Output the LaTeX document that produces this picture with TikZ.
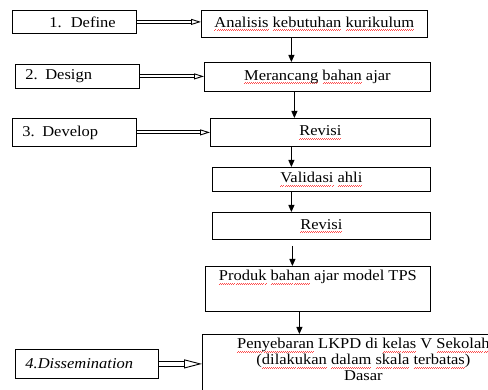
\documentclass[tikz,border=0pt]{standalone}
\usepackage{fontspec}
\setmainfont{Liberation Serif}[FakeStretch=1.1]
\usepackage{xcolor}
\usepackage{tikz}
\usetikzlibrary{arrows.meta,positioning,calc}

\newsavebox{\splbox}
\newcommand{\waveunit}{\hbox{{\color{red!70}\rule{1pt}{0.6pt}\rule[0.8pt]{1pt}{0.6pt}}}}
\newcommand{\spl}[1]{\leavevmode\sbox{\splbox}{#1}%
  \rlap{\lower3.5pt\hbox to \wd\splbox{\xleaders\waveunit\hfil}}\usebox{\splbox}}

\begin{document}
\begin{tikzpicture}[
  x=1pt, y=-1pt,
  box/.style={draw, line width=0.8pt, inner sep=3pt, anchor=north west,
              font=\fontsize{15}{16}\selectfont},
  stage/.style={box, align=left, inner xsep=10pt},
  task/.style={box, align=center},
  flow/.style={-{Triangle[length=7pt, width=6pt]}, line width=0.8pt},
  dbl/.style={double, double distance=2.2pt, line width=0.9pt,
              -{Triangle[open, length=10pt, width=6pt]}},
]
\useasboundingbox (0,0) rectangle (488,390);
\clip (0,0) rectangle (488,390);

%% ---- stages ---------------------------------------------------------------
\node[stage, text width=104pt, minimum height=23pt] (define) at (12,10)
  {\hspace*{27pt}1.\hspace{9pt}Define};
\node[stage, text width=104pt, minimum height=24pt] (design) at (15,64) {2. Design};
\node[stage, text width=104pt, minimum height=28pt] (develop) at (12,118) {3. Develop};
\node[stage, text width=123pt, minimum height=29pt] (dissem) at (15,349)
  {\itshape 4.Dissemination};

%% ---- steps ----------------------------------------------------------------
\node[task, minimum width=226pt, minimum height=27pt] (analisis) at (201,10)
  {\spl{Analisis} \spl{kebutuhan} \spl{kurikulum}};
\node[task, minimum width=226pt, minimum height=29pt] (merancang) at (204,62)
  {\spl{Merancang} \spl{bahan} ajar};
\node[task, minimum width=220pt, minimum height=28pt] (revisiA) at (210,118)
  {\spl{Revisi}};
\node[task, minimum width=218pt, minimum height=24pt] (validasi) at (212,167)
  {\spl{Validasi} \spl{ahli}};
\node[task, minimum width=218pt, minimum height=27pt] (revisiB) at (212,212)
  {\spl{Revisi}};
\node[task, minimum width=225pt, inner ysep=4pt, text depth=27pt] (produk) at (205,266)
  {\spl{Produk} \spl{bahan} ajar model TPS};
\node[task, minimum width=322pt, inner ysep=4pt, text depth=30pt] (sebar) at (202,334)
  {\spl{Penyebaran} LKPD di \spl{kelas} V \spl{Sekolah}\\
   (\spl{dilakukan} \spl{dalam} \spl{skala} \spl{terbatas})\\
   Dasar};

%% ---- flow -----------------------------------------------------------------
\draw[flow] ([xshift=-23pt]analisis.south) -- ([xshift=-26pt]merancang.north);
\draw[flow] ([xshift=-23pt]merancang.south) -- ([xshift=-26pt]revisiA.north);
\draw[flow] ([xshift=-29pt]revisiA.south) -- ([xshift=-30pt]validasi.north);
\draw[flow] ([xshift=-30pt]validasi.south) -- ([xshift=-30pt]revisiB.north);
\draw[flow] ([xshift=-29pt,yshift=-6pt]revisiB.south) -- ([xshift=-25.5pt]produk.north);
\draw[flow] ([xshift=-18.5pt]produk.south) -- ([xshift=-64pt]sebar.north);

%% ---- stage to step --------------------------------------------------------
\draw[dbl] (define.east) -- (define.east -| analisis.west);
\draw[dbl] (design.east) -- (design.east -| merancang.west);
\draw[dbl] (develop.east) -- (develop.east -| revisiA.west);
\draw[dbl, double distance=4pt, -{Triangle[open, length=18pt, width=9pt]}]
  (dissem.east) -- (dissem.east -| sebar.west);

\end{tikzpicture}
\end{document}
